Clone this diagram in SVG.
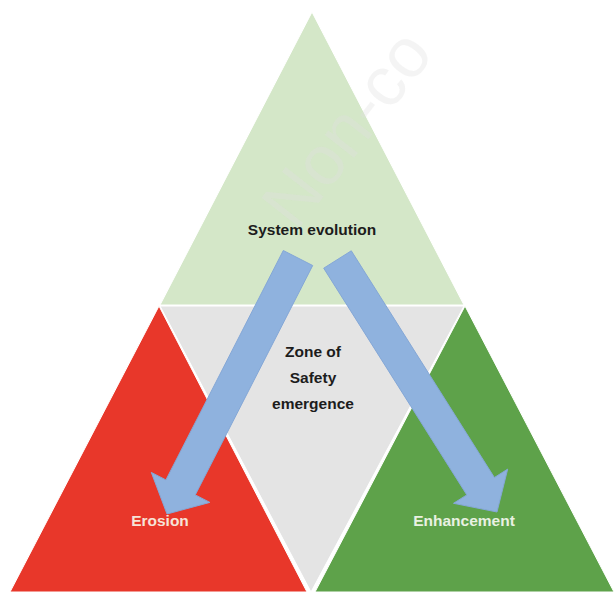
<svg xmlns="http://www.w3.org/2000/svg" width="614" height="592" viewBox="0 0 614 592">
  <defs>
    <style>
      .tri { stroke: #ffffff; stroke-width: 1; stroke-linejoin: miter; }
      .arrow { fill: #8fb2de; stroke: #84a7d6; stroke-width: 1; stroke-linejoin: miter; }
      .lbl { font-family: "Liberation Sans", Arial, sans-serif; font-weight: bold; font-size: 15.5px; text-anchor: middle; }
      .dark { fill: #1c1c1c; }
      .wm { font-family: "Liberation Sans", Arial, sans-serif; font-size: 70px; fill: #e0e0e0; fill-opacity: 0.35; }
    </style>
  </defs>
  <rect width="614" height="592" fill="#ffffff"/>

  <g id="top-triangle">
    <polygon class="tri" points="312,12 160,305 464,305" fill="#d4e7c8"/>
  </g>
  <g id="safety-zone">
    <polygon class="tri" points="160,306 464,306 311,592" fill="#e4e4e4"/>
  </g>
  <g id="erosion">
    <polygon class="tri" points="159,306 10,592 307,592" fill="#e8372a"/>
  </g>
  <g id="enhancement">
    <polygon class="tri" points="465,306 315,592 614,592" fill="#5ea24a"/>
  </g>

  <g id="watermark">
    <text class="wm" x="296" y="232" transform="rotate(-52 296 232)">Non-co</text>
  </g>

  <g id="connectors">
    <polygon class="arrow" points="283.3,250.5 312.7,265.5 195.3,494.9 209.9,502.4 167,514 151.3,472.4 165.9,479.9"/>
    <polygon class="arrow" points="323.7,268.2 351.3,250.8 494.4,477.5 507.7,469.1 497,512 453.5,503.3 466.8,494.9"/>
  </g>

  <g id="labels">
    <text class="lbl dark" x="312" y="235" font-size="16.3">System evolution</text>
    <text class="lbl dark" x="313" y="357">Zone of</text>
    <text class="lbl dark" x="313" y="383">Safety</text>
    <text class="lbl dark" x="313" y="409">emergence</text>
    <text class="lbl" x="160" y="526" fill="#f6e3d8" font-size="15">Erosion</text>
    <text class="lbl" x="464" y="526" fill="#e9f1e2" font-size="16.5">Enhancement</text>
  </g>
</svg>
